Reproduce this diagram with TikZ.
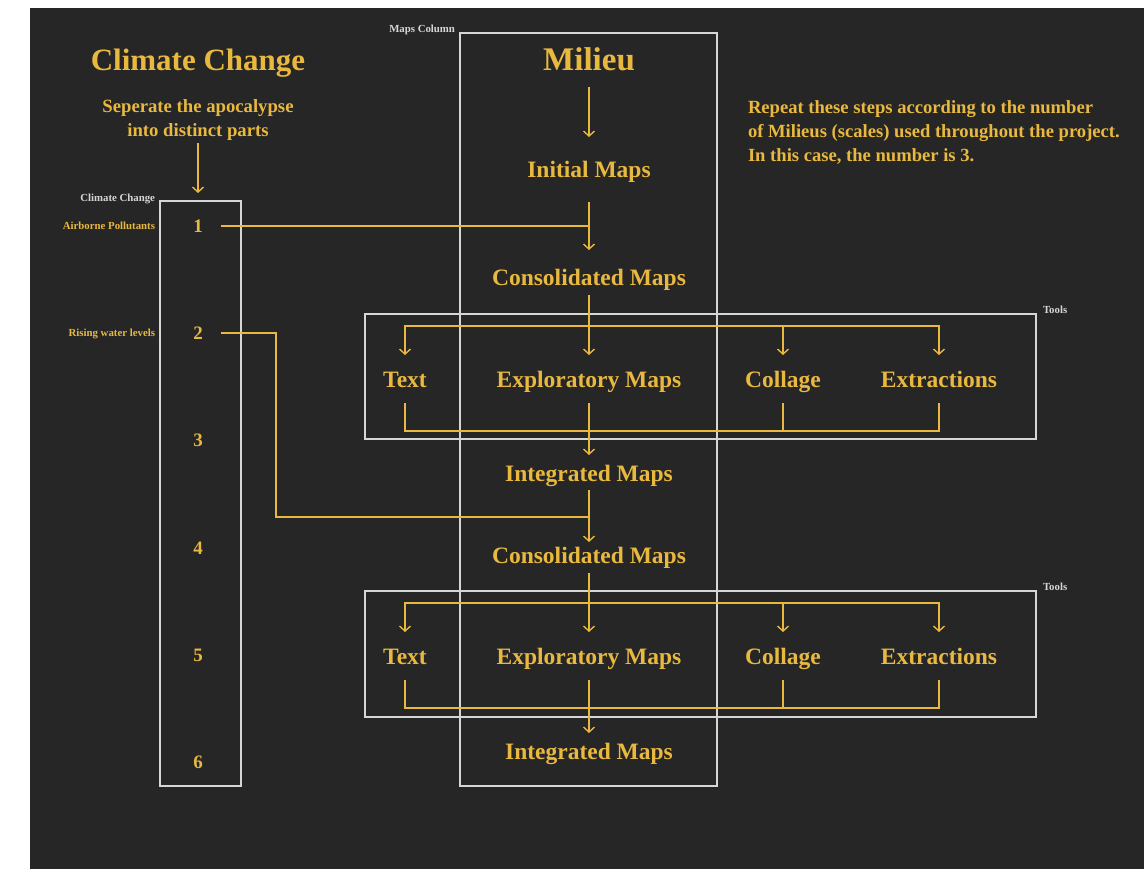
\documentclass[tikz,border=0pt]{standalone}
\usepackage{fontspec}
\setmainfont{Liberation Serif}
\usetikzlibrary{arrows.meta}
\definecolor{bg}{HTML}{262626}
\definecolor{gold}{HTML}{E9B83F}
\definecolor{framec}{HTML}{D6D6D6}
\begin{document}
\begin{tikzpicture}[x=1pt,y=1pt,
  every node/.style={inner sep=0pt,outer sep=0pt},
  fixed/.style={text height=#1,text depth=0pt},
  bigtitle/.style={fixed=20.5pt,text=gold,font=\bfseries\fontsize{31}{36}\selectfont},
  miltitle/.style={fixed=21.8pt,text=gold,font=\bfseries\fontsize{33}{38}\selectfont},
  maptxt/.style={fixed=15.5pt,text=gold,font=\bfseries\fontsize{23.5}{28}\selectfont},
  num/.style={fixed=12.5pt,text=gold,font=\bfseries\fontsize{19}{23}\selectfont},
  subtxt/.style={text=gold,align=center,font=\bfseries\fontsize{18.7}{24}\selectfont},
  notetxt/.style={text=gold,align=left,font=\bfseries\fontsize{18.6}{24}\selectfont},
  tagw/.style={fixed=7.1pt,text=framec,font=\bfseries\fontsize{10.8}{12}\selectfont},
  tagy/.style={fixed=7.1pt,text=gold,font=\bfseries\fontsize{10.8}{12}\selectfont},
  framebox/.style={draw=framec,line width=1.3pt,rectangle},
  gl/.style={draw=gold,line width=1.4pt},
  arr/.style={-{Straight Barb[length=5pt,width=11pt]}}
]
\useasboundingbox (0,0) rectangle (1144,-869);
\fill[bg] (30,-8) rectangle (1144,-869);

% frames
\node[framebox,minimum width=81,minimum height=585] (cbox) at (200.5,-493.5) {};
\node[framebox,minimum width=257,minimum height=753] (mcol) at (588.5,-409.5) {};
\node[framebox,minimum width=671,minimum height=125] (tools1) at (700.5,-376.5) {};
\node[framebox,minimum width=671,minimum height=126] (tools2) at (700.5,-654) {};

% frame labels
\node[tagw,anchor=east] (lblcc) at (155,-198) {Climate Change};
\node[tagw,anchor=east] (lblmaps) at (455,-29) {Maps Column};
\node[tagw,anchor=west] (lbltools1) at (1043,-310) {Tools};
\node[tagw,anchor=west] (lbltools2) at (1043,-587) {Tools};
\node[tagy,anchor=east] (lblair) at (155,-226) {Airborne Pollutants};
\node[tagy,anchor=east] (lblrise) at (155,-333) {Rising water levels};

% left column
\node[bigtitle] (cc) at (198,-60) {Climate Change};
\node[subtxt] (sep) at (198,-120) {Seperate the apocalypse\\into distinct parts};
\node[num] (n1) at (198,-226) {1};
\node[num] (n2) at (198,-333) {2};
\node[num] (n3) at (198,-440) {3};
\node[num] (n4) at (198,-548) {4};
\node[num] (n5) at (198,-655) {5};
\node[num] (n6) at (198,-762) {6};

% note
\node[notetxt,anchor=north west] (note) at (748,-101) {Repeat these steps according to the number\\of Milieus (scales) used throughout the project.\\In this case, the number is 3.};

% maps column
\node[miltitle] (mil) at (589,-60) {Milieu};
\node[maptxt] (ini) at (589,-170) {Initial Maps};
\node[maptxt] (con1) at (589,-278) {Consolidated Maps};
\node[maptxt] (txt1) at (405,-380) {Text};
\node[maptxt] (exp1) at (589,-380) {Exploratory Maps};
\node[maptxt] (col1) at (783,-380) {Collage};
\node[maptxt] (ext1) at (939,-380) {Extractions};
\node[maptxt] (int1) at (589,-474) {Integrated Maps};
\node[maptxt] (con2) at (589,-556) {Consolidated Maps};
\node[maptxt] (txt2) at (405,-657) {Text};
\node[maptxt] (exp2) at (589,-657) {Exploratory Maps};
\node[maptxt] (col2) at (783,-657) {Collage};
\node[maptxt] (ext2) at (939,-657) {Extractions};
\node[maptxt] (int2) at (589,-752) {Integrated Maps};

\coordinate (br1) at (589,-326);
\coordinate (mg1) at (589,-431);
\coordinate (br2) at (589,-603);
\coordinate (mg2) at (589,-708);
\coordinate (k2) at (276,-333);
\coordinate (j2) at (589,-517);

% connectors
\draw[gl,arr,shorten <=3,shorten >=8] (sep) -- (sep |- cbox.north);
\draw[gl,arr,shorten <=27,shorten >=33] (mil.center) -- (ini.center);
\draw[gl,arr,shorten <=32,shorten >=28] (ini.center) -- (con1.center);
\draw[gl,shorten <=23] (n1.center) -- (n1 -| mil);
\draw[gl,arr,shorten <=17,shorten >=25] (con1.center) -- (exp1.center);
\draw[gl,arr,shorten >=25] (br1) -| (txt1.center);
\draw[gl,arr,shorten >=25] (br1) -| (col1.center);
\draw[gl,arr,shorten >=25] (br1) -| (ext1.center);
\draw[gl,shorten <=23,shorten >=23] (txt1.center) |- (ext1 |- mg1) -- (ext1.center);
\draw[gl,shorten <=23] (col1.center) -- (col1 |- mg1);
\draw[gl,arr,shorten <=23,shorten >=19] (exp1.center) -- (int1.center);
\draw[gl,shorten <=23] (n2.center) -- (k2) |- (j2);
\draw[gl,arr,shorten <=16,shorten >=14] (int1.center) -- (con2.center);
\draw[gl,arr,shorten <=17,shorten >=25] (con2.center) -- (exp2.center);
\draw[gl,arr,shorten >=25] (br2) -| (txt2.center);
\draw[gl,arr,shorten >=25] (br2) -| (col2.center);
\draw[gl,arr,shorten >=25] (br2) -| (ext2.center);
\draw[gl,shorten <=23,shorten >=23] (txt2.center) |- (ext2 |- mg2) -- (ext2.center);
\draw[gl,shorten <=23] (col2.center) -- (col2 |- mg2);
\draw[gl,arr,shorten <=23,shorten >=19] (exp2.center) -- (int2.center);
\end{tikzpicture}
\end{document}
